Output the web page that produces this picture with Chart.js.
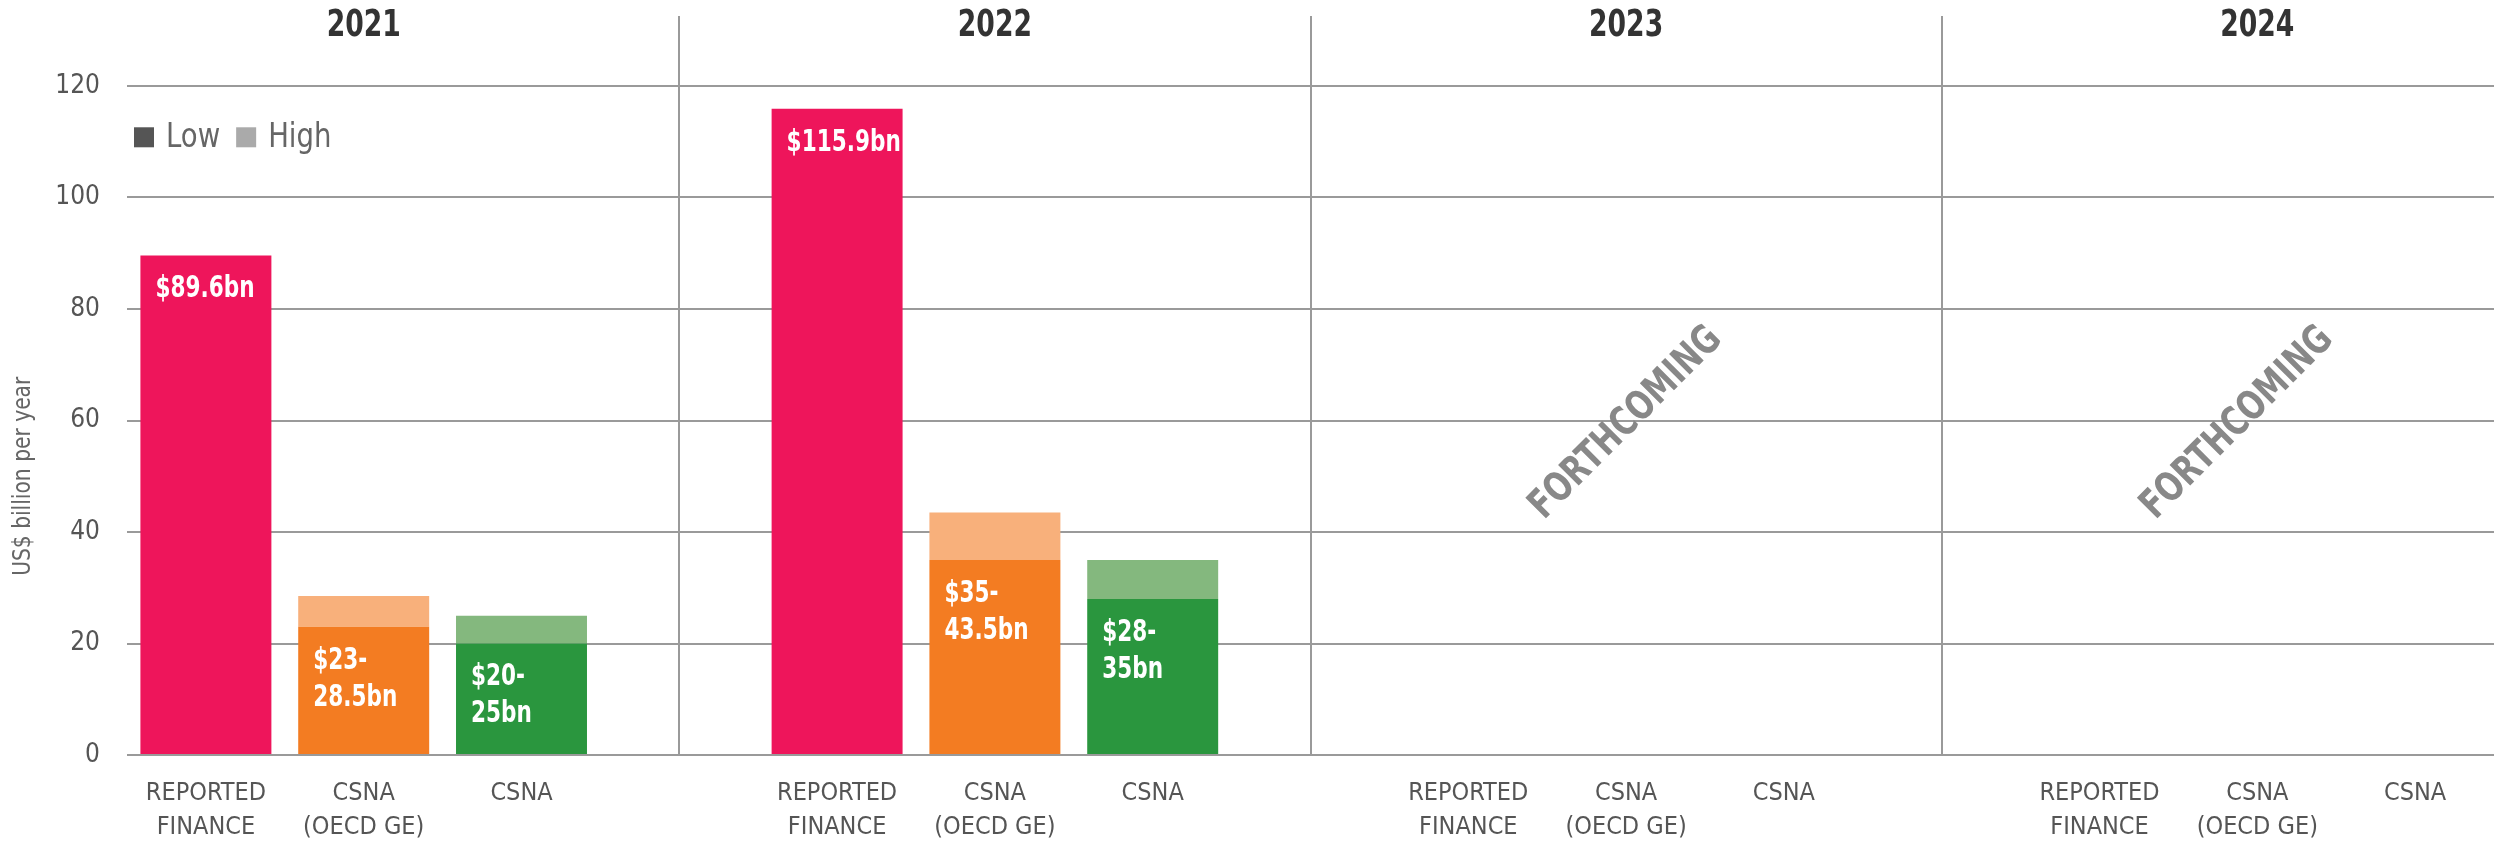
<!DOCTYPE html>
<html>
<head>
<meta charset="utf-8">
<script src="https://cdn.jsdelivr.net/npm/chart.js@4.4.1/dist/chart.umd.min.js"></script>
<style>
  html, body { margin: 0; padding: 0; background: #ffffff; }
  #wrap { width: 2494px; height: 841px; }
</style>
</head>
<body>
<div id="wrap"><canvas id="c" width="2494" height="841"></canvas></div>
<script>
// ---- data ----
const years = ['2021', '2022', '2023', '2024'];
const categories = [['REPORTED', 'FINANCE'], ['CSNA', '(OECD GE)'], ['CSNA']];
const reportedFinance = [89.6, 115.9, null, null];
const csnaOecdLow = [23, 35, null, null];
const csnaOecdHigh = [28.5, 43.5, null, null];
const csnaLow = [20, 28, null, null];
const csnaHigh = [25, 35, null, null];
const forthcoming = [false, false, true, true];
const yTicks = [0, 20, 40, 60, 80, 100, 120];
const legendItems = ['Low', 'High'];
const yTitle = 'US$ billion per year';
const forthcomingText = 'FORTHCOMING';

// ---- styles ----
const FONT = "'DejaVu Sans Condensed', 'DejaVu Sans', sans-serif";
const lowColors = ['#EE155B', '#F37C22', '#2A963E'];
const highColors = ['#EE155B', '#F8B07B', '#84B87E'];
const legendColors = ['#555555', '#aaaaaa'];
const gridColor = '#9a9a9a';

// ---- build table ----
const labels = [], lowData = [], highData = [], lowBg = [], highBg = [], valueLabels = [];
years.forEach((yr, k) => {
  const lows = [reportedFinance[k], csnaOecdLow[k], csnaLow[k]];
  const highs = [null, csnaOecdHigh[k], csnaHigh[k]];
  categories.forEach((cat, j) => {
    labels.push(cat);
    lowData.push(lows[j]);
    highData.push(highs[j] == null || lows[j] == null ? null : [lows[j], highs[j]]);
    lowBg.push(lowColors[j]);
    highBg.push(highColors[j]);
    if (lows[j] == null) valueLabels.push(null);
    else if (highs[j] == null) valueLabels.push(['$' + lows[j] + 'bn']);
    else valueLabels.push(['$' + lows[j] + '-', highs[j] + 'bn']);
  });
  if (k < years.length - 1) {
    labels.push('');
    lowData.push(null); highData.push(null);
    lowBg.push('#fff'); highBg.push('#fff'); valueLabels.push(null);
  }
});
const slotsPerYear = categories.length + 1;

function condensedText(ctx, text, x, y, sx) {
  ctx.save();
  ctx.translate(x, y);
  ctx.scale(sx, 1);
  ctx.fillText(text, 0, 0);
  ctx.restore();
}

const decorPlugin = {
  id: 'decor',
  afterDatasetsDraw(chart) {
    const ctx = chart.ctx;
    const meta = chart.getDatasetMeta(0);
    ctx.save();
    ctx.fillStyle = '#ffffff';
    ctx.font = 'bold 30px ' + FONT;
    ctx.textAlign = 'left';
    ctx.textBaseline = 'middle';
    valueLabels.forEach((lines, i) => {
      if (!lines) return;
      const el = meta.data[i];
      const left = el.x - el.width / 2 + 15;
      lines.forEach((t, li) => condensedText(ctx, t, left, el.y + 34 + li * 37, 0.8));
    });
    ctx.restore();
  },
  afterDraw(chart) {
    const ctx = chart.ctx;
    const xs = chart.scales.x, ys = chart.scales.y;
    const ca = chart.chartArea;
    ctx.save();
    // separators
    ctx.strokeStyle = gridColor;
    ctx.lineWidth = 2;
    const seps = [];
    for (let k = 0; k < years.length - 1; k++) {
      const px = Math.round(xs.getPixelForValue(k * slotsPerYear + categories.length));
      seps.push(px);
      ctx.beginPath();
      ctx.moveTo(px, 16);
      ctx.lineTo(px, ca.bottom);
      ctx.stroke();
    }
    // year headers
    ctx.fillStyle = '#333333';
    ctx.font = 'bold 37px ' + FONT;
    ctx.textAlign = 'center';
    ctx.textBaseline = 'middle';
    years.forEach((yr, k) => {
      const px = xs.getPixelForValue(k * slotsPerYear + 1);
      condensedText(ctx, yr, px, 26, 0.8);
    });
    // forthcoming
    ctx.fillStyle = '#888888';
    ctx.font = 'bold 40px ' + FONT;
    years.forEach((yr, k) => {
      if (!forthcoming[k]) return;
      const mid = xs.getPixelForValue(k * slotsPerYear + 1);
      const l = k === 0 ? ca.left : seps[k - 1];
      const r = k < seps.length ? seps[k] : ca.right;
      const cx = (mid + (l + r) / 2) / 2;
      const cy = ys.getPixelForValue(59.5);
      ctx.save();
      ctx.translate(cx, cy);
      ctx.rotate(-Math.PI / 4);
      ctx.scale(0.84, 1);
      ctx.fillText(forthcomingText, 0, 0);
      ctx.restore();
    });
    // legend
    ctx.font = '34px ' + FONT;
    ctx.textAlign = 'left';
    ctx.textBaseline = 'middle';
    let lx = ca.left + 7;
    const ly = ys.getPixelForValue(110.8);
    legendItems.forEach((t, i) => {
      ctx.fillStyle = legendColors[i];
      ctx.fillRect(lx, ly - 10, 20, 20);
      lx += 20 + 12;
      ctx.fillStyle = '#666666';
      condensedText(ctx, t, lx, ly + 1, 0.9);
      lx += ctx.measureText(t).width * 0.9 + 16;
    });
    // y title
    ctx.font = '25px ' + FONT;
    ctx.fillStyle = '#666666';
    ctx.textAlign = 'center';
    ctx.translate(23, ys.getPixelForValue(50));
    ctx.rotate(-Math.PI / 2);
    ctx.scale(0.9, 1);
    ctx.fillText(yTitle, 0, 0);
    ctx.restore();
  }
};

new Chart(document.getElementById('c'), {
  type: 'bar',
  data: {
    labels: labels,
    datasets: [
      { label: 'Low', data: lowData, backgroundColor: lowBg, borderWidth: 0 },
      { label: 'High', data: highData, backgroundColor: highBg, borderWidth: 0 }
    ]
  },
  options: {
    responsive: false,
    animation: false,
    devicePixelRatio: 1,
    layout: { padding: { top: 86, left: 0, right: 0, bottom: 0 } },
    datasets: { bar: { barPercentage: 0.83, categoryPercentage: 1.0 } },
    plugins: { legend: { display: false }, tooltip: { enabled: false }, title: { display: false } },
    scales: {
      x: {
        stacked: true,
        offset: true,
        grid: { display: false, drawTicks: false },
        border: { display: false },
        ticks: {
          autoSkip: false, maxRotation: 0, minRotation: 0, padding: 21,
          color: '#555555',
          font: { family: FONT, size: 25, lineHeight: 1.36 }
        },
        afterFit(scale) { scale.height = 86; }
      },
      y: {
        stacked: false,
        min: 0, max: 120,
        grid: { color: gridColor, lineWidth: 2, drawTicks: false },
        border: { display: false },
        afterBuildTicks(scale) { scale.ticks = yTicks.map(v => ({ value: v })); },
        ticks: {
          padding: 27,
          color: '#555555',
          font: { family: FONT, size: 26 }
        },
        afterFit(scale) { scale.width = 127; }
      }
    }
  },
  plugins: [decorPlugin]
});
</script>
</body>
</html>
